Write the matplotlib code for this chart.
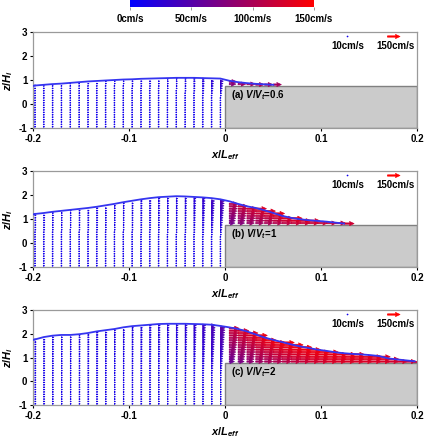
import numpy as np
import matplotlib
matplotlib.use('Agg')
import matplotlib.pyplot as plt
from matplotlib.colors import LinearSegmentedColormap, Normalize
from matplotlib.patches import Rectangle
import matplotlib.colorbar as mcolorbar

plt.rcParams['font.family'] = ['Liberation Sans', 'DejaVu Sans']
plt.rcParams['font.weight'] = 'bold'
plt.rcParams['mathtext.fontset'] = 'custom'
plt.rcParams['mathtext.it'] = 'Liberation Sans:italic:bold'
plt.rcParams['mathtext.rm'] = 'Liberation Sans:bold'
plt.rcParams['mathtext.bf'] = 'Liberation Sans:bold'

# ---------------- data ----------------
x_cols = np.arange(-0.198, 0.2, 0.0092)   # measurement stations (x/L_eff)
step_top = 0.77                           # platform crest (z/H_i)

labels = [r'(a) $V/V_t$=0.6', r'(b) $V/V_t$=1', r'(c) $V/V_t$=2']

# free-surface elevation at each station (z/H_i)
eta_a = [0.77, 0.80, 0.83, 0.85, 0.88, 0.91, 0.94, 0.96, 0.98, 1.00, 1.02, 1.03, 1.05, 1.06,
         1.07, 1.08, 1.09, 1.09, 1.09, 1.08, 1.07, 1.06, 0.97, 0.91, 0.87, 0.84, 0.82, 0.80]
eta_b = [1.21, 1.25, 1.30, 1.34, 1.38, 1.42, 1.46, 1.51, 1.57, 1.63, 1.70, 1.76, 1.82, 1.87,
         1.91, 1.93, 1.95, 1.94, 1.92, 1.90, 1.87, 1.82, 1.74, 1.63, 1.53, 1.46, 1.36, 1.25,
         1.13, 1.05, 0.99, 0.95, 0.92, 0.89, 0.85, 0.81]
eta_c = [1.76, 1.86, 1.92, 1.95, 1.95, 1.98, 2.03, 2.10, 2.15, 2.20, 2.27, 2.32, 2.35, 2.38,
         2.41, 2.42, 2.42, 2.42, 2.41, 2.40, 2.38, 2.33, 2.27, 2.20, 2.10, 1.97, 1.84, 1.74,
         1.65, 1.55, 1.47, 1.40, 1.33, 1.28, 1.22, 1.18, 1.15, 1.13, 1.10, 1.06, 0.96, 0.92,
         0.88, 0.84]

# surface velocity at each station (cm/s)
utop_a = [12, 12, 12, 12, 12, 12, 13, 13, 13, 13, 13, 14, 14, 14, 14, 15, 15, 16, 18, 22, 28, 38,
          90, 100, 105, 105, 100, 95]
utop_b = [14, 14, 14, 14, 14, 15, 15, 15, 15, 16, 16, 16, 17, 17, 18, 18, 19, 21, 25, 30,
          38, 50, 110, 120, 125, 130, 132, 135, 135, 135, 135, 132, 130, 128, 125, 120]
utop_c = [15, 15, 15, 15, 16, 16, 16, 17, 17, 17, 18, 18, 19, 19, 20, 21, 23, 26, 30, 36,
          45, 58, 120, 130, 135, 140, 143, 145, 145, 145, 145, 145, 143, 143, 140, 140, 138,
          135, 133, 130, 128, 125, 120, 115]

# near-bed velocity at each station (cm/s)
ubot_a = [11]*22 + [75, 85, 90, 90, 90, 85]
ubot_b = [12]*22 + [65, 75, 85, 90, 95, 100, 105, 110, 110, 110, 110, 110, 110, 110]
ubot_c = [13]*22 + [60, 70, 80, 90, 95, 100, 105, 110, 115, 120, 120, 125, 125, 125, 125,
                    125, 125, 125, 120, 120, 120, 115]

panels = [(eta_a, utop_a, ubot_a), (eta_b, utop_b, ubot_b), (eta_c, utop_c, ubot_c)]

key_speeds = [10, 150]
key_labels = ['10cm/s', '150cm/s']
cbar_ticks = [0, 50, 100, 150]
cbar_labels = ['0cm/s', '50cm/s', '100cm/s', '150cm/s']

# ---------------- style ----------------
W, H = 428, 437
fig = plt.figure(figsize=(W/100, H/100), dpi=100)
cmap = LinearSegmentedColormap.from_list('br', [(0, 0, 1), (1, 0, 0)])
norm = Normalize(0, 150)
qscale = 150/12.5   # cm/s per pixel

ax_boxes = [(33, 32, 417, 128), (33, 171, 417, 267), (33, 310, 417, 405)]

def fbox(l, t, r, b):
    return [l/W, (H-b)/H, (r-l)/W, (b-t)/H]

qkw = dict(angles='uv', scale_units='dots', scale=qscale, units='dots', width=1.3,
           headwidth=3.2, headlength=3.5, headaxislength=3.0, minlength=0.8, minshaft=1,
           linewidth=0.5, edgecolor='face')

for k, ((eta, utop, ubot), box) in enumerate(zip(panels, ax_boxes)):
    ax = fig.add_axes(fbox(*box))
    ax.set_xlim(-0.2, 0.2)
    ax.set_ylim(-1, 3)
    ax.add_patch(Rectangle((0, -1), 0.2, step_top+1, facecolor='#cbcbcb',
                           edgecolor='#808080', lw=1.0, zorder=1))
    X, Z, U, V = [], [], [], []
    n = len(eta)
    for i in range(n):
        xc = x_cols[i]
        e = eta[i]
        if xc < 0:
            zs = np.arange(-0.95, e - 0.02, 0.1)
            z0 = 0.3
        else:
            zs = np.arange(step_top + 0.06, e - 0.01, 0.1)
            if len(zs) == 0:
                zs = np.array([step_top + 0.04])
            z0 = step_top
        f = np.clip((zs - z0)/max(e - z0, 1e-6), 0, 1)
        u = ubot[i] + (utop[i] - ubot[i])*f
        X += [xc]*len(zs); Z += list(zs); U += list(u); V += [0]*len(zs)
    X = np.array(X); Z = np.array(Z); U = np.array(U); V = np.array(V)
    ax.quiver(X, Z, U, V, np.hypot(U, V), cmap=cmap, norm=norm, zorder=3, **qkw)
    ax.plot(x_cols[:n], eta, color='#3535f0', lw=1.3, zorder=4)
    ax.plot([-0.2, x_cols[0]], [eta[0] - 0.02, eta[0]], color='#3535f0', lw=1.3, zorder=4)

    # key
    ax.quiver([0.818], [0.96], [key_speeds[0]], [0], color=cmap(norm(key_speeds[0])),
              transform=ax.transAxes, zorder=5, **qkw)
    ax.quiver([0.922], [0.96], [key_speeds[1]], [0], color=cmap(norm(key_speeds[1])),
              transform=ax.transAxes, zorder=5, **qkw)
    ax.text(0.82, 0.85, key_labels[0], transform=ax.transAxes, ha='center', va='center',
            fontsize=7, fontweight='bold')
    ax.text(0.945, 0.85, key_labels[1], transform=ax.transAxes, ha='center', va='center',
            fontsize=7, fontweight='bold')
    ax.text(0.006, 0.37, labels[k], ha='left', va='center', fontsize=7, fontweight='bold',
            zorder=5)

    ax.set_xticks([-0.2, -0.1, 0, 0.1, 0.2])
    ax.set_xticklabels(['-0.2', '-0.1', '0', '0.1', '0.2'])
    ax.set_yticks([-1, 0, 1, 2, 3])
    ax.set_yticklabels(['-1', '0', '1', '2', '3'])
    ax.tick_params(labelsize=7, length=2.5, width=0.8, pad=1.5, colors='black')
    for s in ax.spines.values():
        s.set_color('#9a9a9a')
        s.set_linewidth(0.9)
    ax.set_xlabel(r'$x/L_{eff}$', fontsize=8, labelpad=3)
    ax.set_ylabel(r'$z/H_i$', fontsize=8, labelpad=3)

# colorbar
cax = fig.add_axes([130/W, (H-7)/H, 184/W, 14/H])
cb = mcolorbar.ColorbarBase(cax, cmap=cmap, norm=norm, orientation='horizontal')
cb.set_ticks(cbar_ticks)
cb.set_ticklabels(cbar_labels)
cb.outline.set_visible(False)
cax.tick_params(labelsize=7, length=2, width=0.6, pad=3, color='#888888')

fig.savefig('out.png', dpi=100)
